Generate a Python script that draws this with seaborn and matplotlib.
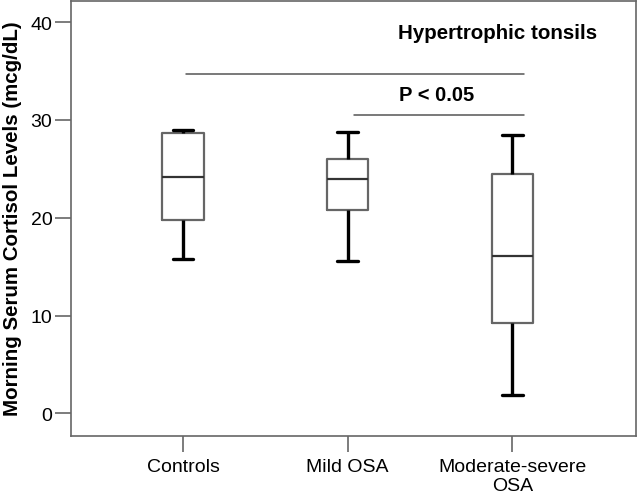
import numpy as np
import pandas as pd
import matplotlib
matplotlib.use("Agg")
import matplotlib.pyplot as plt
import seaborn as sns

# Gruplar ve kutu değerleri (min, Q1, medyan, Q3, max)
groups = ["Controls", "Mild OSA", "Moderate-severe\nOSA"]
controls = [15.8, 19.8, 24.2, 28.7, 29.0]
mild_osa = [15.6, 20.8, 24.0, 26.0, 28.8]
moderate_severe = [1.9, 9.2, 16.1, 24.5, 28.5]

y_ticks = [0, 10, 20, 30, 40]
y_label = "Morning Serum Cortisol Levels (mcg/dL)"
title_text = "Hypertrophic tonsils"
p_text = "P < 0.05"

data = pd.DataFrame({
    "group": [groups[0]] * len(controls) + [groups[1]] * len(mild_osa) + [groups[2]] * len(moderate_severe),
    "value": controls + mild_osa + moderate_severe,
})

sns.set_style("white")
plt.rcParams['font.family'] = ['Liberation Sans', 'DejaVu Sans']
plt.rcParams['text.color'] = 'black'
plt.rcParams['axes.labelcolor'] = 'black'

fig = plt.figure(figsize=(6.38, 5.02), dpi=100)
ax = fig.add_axes([71 / 638, (502 - 437) / 502, (636 - 71) / 638, (437 - 1.7) / 502])

sns.boxplot(data=data, x="group", y="value", order=groups, ax=ax,
            width=0.25, whis=10, fill=False, color="#666666", linewidth=1.6,
            boxprops=dict(color="#666666", linewidth=1.6),
            whiskerprops=dict(color="black", linewidth=2.4),
            capprops=dict(color="black", linewidth=2.4),
            medianprops=dict(color="#333333", linewidth=1.6),
            showfliers=False)

# Anlamlılık çizgileri
ax.plot([0.02, 2.07], [34.7, 34.7], color="#555555", linewidth=1.1)
ax.plot([1.04, 2.07], [30.5, 30.5], color="#555555", linewidth=1.1)
ax.text(1.54, 32.6, p_text, ha="center", va="center", fontsize=14.5, fontweight="bold")
ax.text(1.91, 38.95, title_text, ha="center", va="center", fontsize=14.8, fontweight="bold")

ax.set_xlim(-0.68, 2.75)
ax.set_ylim(-2.31, 42.18)
ax.set_yticks(y_ticks)
ax.set_xlabel("")
ax.set_ylabel(y_label, fontsize=14.8, fontweight="bold", va="center")
ax.yaxis.set_label_coords(-0.1027, 0.501)
ax.tick_params(axis="both", labelsize=14, length=11.5, width=1.2, color="#666666",
               labelcolor="black", direction="out", pad=2, bottom=True, left=True)
ax.tick_params(axis="x", pad=4)
for side in ["left", "right", "top", "bottom"]:
    ax.spines[side].set_visible(True)
    ax.spines[side].set_color("#666666")
    ax.spines[side].set_linewidth(1.2)

plt.savefig("out.png", dpi=100)
